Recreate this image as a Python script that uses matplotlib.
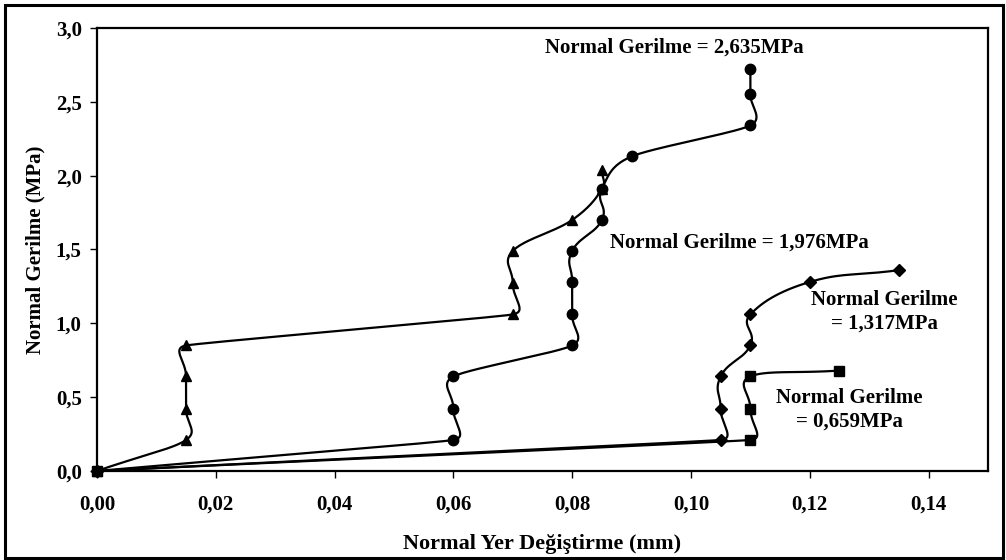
import matplotlib
matplotlib.use("Agg")
import matplotlib.pyplot as plt
from matplotlib.patches import Rectangle
import numpy as np

plt.rcParams["font.family"] = ["Liberation Serif", "DejaVu Serif"]
plt.rcParams["font.weight"] = "bold"

# Normal displacement (mm) vs normal stress (MPa), one series per normal stress level
x_0659 = [0.0, 0.11, 0.11, 0.11, 0.125]
y_0659 = [0.0, 0.21, 0.42, 0.64, 0.68]

x_1317 = [0.0, 0.105, 0.105, 0.105, 0.11, 0.11, 0.12, 0.135]
y_1317 = [0.0, 0.21, 0.42, 0.64, 0.85, 1.06, 1.28, 1.36]

x_1976 = [0.0, 0.015, 0.015, 0.015, 0.015, 0.07, 0.07, 0.07, 0.08, 0.085, 0.085]
y_1976 = [0.0, 0.21, 0.42, 0.64, 0.85, 1.06, 1.27, 1.49, 1.70, 1.91, 2.04]

x_2635 = [0.0, 0.06, 0.06, 0.06, 0.08, 0.08, 0.08, 0.08, 0.085, 0.085, 0.09, 0.11, 0.11, 0.11]
y_2635 = [0.0, 0.21, 0.42, 0.64, 0.85, 1.06, 1.28, 1.49, 1.70, 1.91, 2.13, 2.34, 2.55, 2.72]

xticks = [0.0, 0.02, 0.04, 0.06, 0.08, 0.10, 0.12, 0.14]
xtick_labels = ["0,00", "0,02", "0,04", "0,06", "0,08", "0,10", "0,12", "0,14"]
yticks = [0.0, 0.5, 1.0, 1.5, 2.0, 2.5, 3.0]
ytick_labels = ["0,0", "0,5", "1,0", "1,5", "2,0", "2,5", "3,0"]

fig = plt.figure(figsize=(10.06, 5.6), dpi=100)
ax = fig.add_axes([0.0964, 0.159, 0.8857, 0.791])
ax.set_xlim(0, 0.15)
ax.set_ylim(0, 3.0)


def smooth_line(xs, ys, k=0.5, n=30):
    """Excel-like smoothed line, bezier in screen space.
    Tangent length follows the shorter neighbouring segment so long runs stay straight."""
    pts = ax.transData.transform(np.column_stack([xs, ys]))
    out = [pts[0]]
    t = np.linspace(0, 1, n)[1:, None]

    def unit(v):
        d = np.hypot(*v)
        return v / d if d > 0 else v

    def seglen(a, b):
        return np.hypot(*(b - a))

    last = len(pts) - 1
    for i in range(last):
        p0 = pts[max(i - 1, 0)]
        p1 = pts[i]
        p2 = pts[i + 1]
        p3 = pts[min(i + 2, last)]
        L = seglen(p1, p2)
        L1 = min(L, seglen(p0, p1)) if i > 0 else L
        L2 = min(L, seglen(p2, p3)) if i + 1 < last else L
        c1 = p1 + unit(p2 - p0) * L1 * k
        c2 = p2 - unit(p3 - p1) * L2 * k
        seg = ((1 - t) ** 3) * p1 + 3 * ((1 - t) ** 2) * t * c1 + 3 * (1 - t) * t ** 2 * c2 + t ** 3 * p2
        out.extend(seg)
    out = ax.transData.inverted().transform(np.array(out))
    return out[:, 0], out[:, 1]


series = [
    (x_0659, y_0659, "s", 7.5),
    (x_1317, y_1317, "D", 6),
    (x_1976, y_1976, "^", 7.5),
    (x_2635, y_2635, "o", 7.5),
]
for xs, ys, mk, ms in series:
    sx, sy = smooth_line(xs, ys)
    ax.plot(sx, sy, color="black", lw=1.6, zorder=3)
    ax.plot(xs, ys, ls="none", marker=mk, ms=ms, color="black", zorder=4, clip_on=False)

ax.set_xticks(xticks)
ax.set_xticklabels(xtick_labels)
ax.set_yticks(yticks)
ax.set_yticklabels(ytick_labels)
ax.tick_params(axis="both", direction="out", length=5, width=1, labelsize=15)
ax.tick_params(axis="x", pad=12)
ax.tick_params(axis="y", pad=6)
for s in ax.spines.values():
    s.set_linewidth(1.6)

ax.set_xlabel("Normal Yer Değiştirme (mm)", fontsize=16, fontweight="bold", labelpad=14)
ax.set_ylabel("Normal Gerilme (MPa)", fontsize=15, fontweight="bold", labelpad=7)

tk = dict(fontsize=15, fontweight="bold", ha="center", va="center")
ax.text(0.0972, 2.87, "Normal Gerilme = 2,635MPa", **tk)
ax.text(0.1081, 1.547, "Normal Gerilme = 1,976MPa", **tk)
ax.text(0.1326, 1.079, "Normal Gerilme\n= 1,317MPa", linespacing=1.25, **tk)
ax.text(0.1267, 0.414, "Normal Gerilme\n= 0,659MPa", linespacing=1.25, **tk)

fig.patches.append(Rectangle((0.005, 0.003), 0.992, 0.988, transform=fig.transFigure,
                             fill=False, edgecolor="black", lw=2.2))

fig.savefig("out.png", dpi=100)
